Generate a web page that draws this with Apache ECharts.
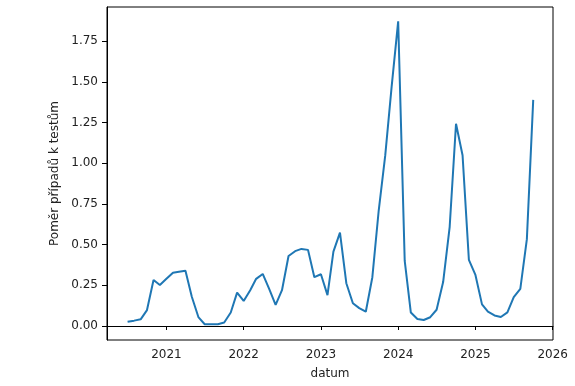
<!DOCTYPE html>
<html>
<head>
<meta charset="utf-8">
<script src="https://cdn.jsdelivr.net/npm/echarts@6/dist/echarts.min.js"></script>
<style>
html,body{margin:0;padding:0;background:#fff;}
#chart{width:575px;height:386px;}
</style>
</head>
<body>
<div id="chart"></div>
<script>
const months = [
  '2020-07','2020-08','2020-09','2020-10','2020-11','2020-12',
  '2021-01','2021-02','2021-03','2021-04','2021-05','2021-06','2021-07','2021-08','2021-09','2021-10','2021-11','2021-12',
  '2022-01','2022-02','2022-03','2022-04','2022-05','2022-06','2022-07','2022-08','2022-09','2022-10','2022-11','2022-12',
  '2023-01','2023-02','2023-03','2023-04','2023-05','2023-06','2023-07','2023-08','2023-09','2023-10','2023-11','2023-12',
  '2024-01','2024-02','2024-03','2024-04','2024-05','2024-06','2024-07','2024-08','2024-09','2024-10','2024-11','2024-12',
  '2025-01','2025-02','2025-03','2025-04','2025-05','2025-06','2025-07','2025-08','2025-09','2025-10'
];
const ratio = [
  0.026,0.033,0.041,0.098,0.283,0.252,
  0.29,0.328,0.334,0.340,0.18,0.055,0.011,0.011,0.011,0.022,0.083,0.205,
  0.154,0.22,0.29,0.32,0.23,0.13,0.22,0.43,0.46,0.474,0.468,0.30,
  0.318,0.19,0.457,0.574,0.263,0.14,0.11,0.088,0.30,0.71,1.05,1.47,
  1.873,0.40,0.083,0.043,0.037,0.054,0.10,0.27,0.61,1.243,1.05,0.406,
  0.314,0.133,0.088,0.065,0.055,0.084,0.177,0.228,0.534,1.39
];
const xTicks = [2021,2022,2023,2024,2025,2026];
const yTicks = [0,0.25,0.5,0.75,1.0,1.25,1.5,1.75];

function fracYear(s){
  const [y,m] = s.split('-').map(Number);
  const a = Date.UTC(y,0,1), b = Date.UTC(y+1,0,1), d = Date.UTC(y,m-1,1);
  return y + (d-a)/(b-a);
}
const data = months.map((s,i)=>[fracYear(s), ratio[i]]);

const font = 'DejaVu Sans';
const chart = echarts.init(document.getElementById('chart'), null, {renderer:'canvas'});
chart.setOption({
  animation:false,
  backgroundColor:'#fff',
  grid:{left:107,right:22,top:7,bottom:46,show:true,borderColor:'#000',borderWidth:1,backgroundColor:'transparent'},
  xAxis:{
    type:'value', min:2020.231, max:2026.004,
    name:'datum', nameLocation:'middle', nameGap:28,
    nameTextStyle:{fontFamily:font,fontSize:12,color:'#222'},
    axisLine:{show:true,lineStyle:{color:'#000',width:1}},
    axisTick:{show:true,length:4,inside:false,lineStyle:{color:'#000'},customValues:xTicks},
    axisLabel:{show:true,customValues:xTicks,formatter:v=>String(Math.round(v)),fontFamily:font,fontSize:12,color:'#222',margin:9},
    splitLine:{show:false}
  },
  yAxis:{
    type:'value', min:-0.086, max:1.961,
    name:'Poměr případů k testům', nameLocation:'middle', nameGap:41, nameRotate:90,
    nameTextStyle:{fontFamily:font,fontSize:12,color:'#222'},
    axisLine:{show:true,lineStyle:{color:'#000',width:1}},
    axisTick:{show:true,length:5,lineStyle:{color:'#000'},customValues:yTicks},
    axisLabel:{show:true,customValues:yTicks,formatter:v=>v.toFixed(2),fontFamily:font,fontSize:12,color:'#222',margin:9},
    splitLine:{show:false}
  },
  series:[{
    type:'line', data:data, showSymbol:false, symbol:'none',
    lineStyle:{color:'#1f77b4',width:2}, itemStyle:{color:'#1f77b4'}
  }]
});
</script>
</body>
</html>
